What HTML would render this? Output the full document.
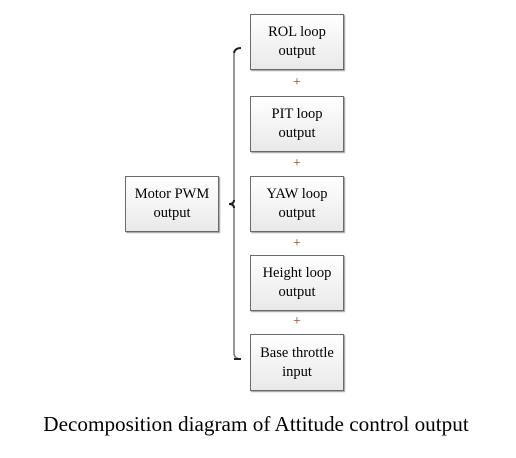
<!DOCTYPE html>
<html><head><meta charset="utf-8"><style>
body{margin:0;width:516px;height:458px;background:#fff;position:relative;font-family:"Liberation Serif",serif;overflow:hidden}
.box{position:absolute;box-sizing:border-box;border:1px solid #6a6a6a;background:linear-gradient(#ffffff,#e9e9e9);box-shadow:1px 1px 1px #999;display:flex;align-items:center;justify-content:center;text-align:center;font-size:14.5px;line-height:19px;color:#000}
.plus{position:absolute;width:20px;text-align:center;font-size:14px;color:#8a3b10;line-height:14px}
</style></head><body>
<div class="box" style="left:125px;top:176px;width:94px;height:56px">Motor PWM<br>output</div>
<div class="box" style="left:250px;top:14px;width:94px;height:56px">ROL loop<br>output</div>
<div class="plus" style="left:287px;top:76px">+</div>
<div class="box" style="left:250px;top:96px;width:94px;height:56px">PIT loop<br>output</div>
<div class="plus" style="left:287px;top:157px">+</div>
<div class="box" style="left:250px;top:176px;width:94px;height:56px">YAW loop<br>output</div>
<div class="plus" style="left:287px;top:237px">+</div>
<div class="box" style="left:250px;top:255px;width:94px;height:56px">Height loop<br>output</div>
<div class="plus" style="left:287px;top:315px">+</div>
<div class="box" style="left:250px;top:334px;width:94px;height:57px">Base throttle<br>input</div>
<svg width="516" height="458" style="position:absolute;left:0;top:0">
<path d="M241,48 Q235,48 234,53 L234,200 Q234,204 229,204 Q234,204 234,208 L234,354 Q235,359 241,359" fill="none" stroke="#777" stroke-width="1.5"/>
<path d="M241,48 Q235,48 234,53" fill="none" stroke="#222" stroke-width="2"/>
<path d="M234,359 Q235,359 241,359" fill="none" stroke="#222" stroke-width="2"/>
<path d="M234,200 Q234,204 229,204 Q234,204 234,208" fill="none" stroke="#222" stroke-width="2"/>
</svg>
<div style="position:absolute;left:0;width:512px;top:412px;text-align:center;font-size:21.2px;color:#000">Decomposition diagram of Attitude control output</div>
</body></html>
